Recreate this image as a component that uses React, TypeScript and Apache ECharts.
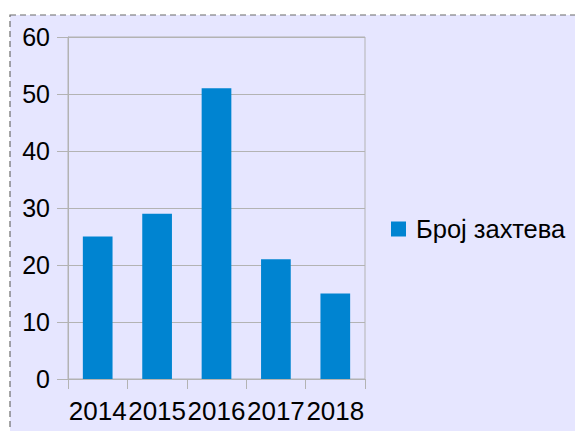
import React, { useEffect, useRef } from "react";
import * as echarts from "echarts";

const categories = ["2014", "2015", "2016", "2017", "2018"];
const values = [25, 29, 51, 21, 15];
const seriesName = "Број захтева";

export default function App() {
  const ref = useRef<HTMLDivElement>(null);
  useEffect(() => {
    const chart = echarts.init(ref.current!, null, { renderer: "svg" });
    const font = "'Liberation Sans', Arial, sans-serif";
    chart.setOption({
      animation: false,
      backgroundColor: "#ffffff",
      textStyle: { fontFamily: font },
      graphic: [
        {
          type: "rect",
          shape: { x: 10, y: 15, width: 575, height: 431 },
          style: { fill: "#e6e6ff", stroke: "#6b6b6b", lineWidth: 1.2, lineDash: [6, 4] },
          z: -10,
          silent: true,
        },
      ],
      grid: {
        left: 68,
        top: 37,
        width: 297,
        height: 342,
        show: true,
        borderColor: "#b3b3b3",
        borderWidth: 1,
        backgroundColor: "transparent",
      },
      legend: {
        left: 386,
        top: 211,
        icon: "rect",
        itemWidth: 15,
        itemHeight: 15,
        itemGap: 5,
        textStyle: { fontSize: 25.5, color: "#000", fontFamily: font, padding: [0, 0, 0, 5] },
        data: [seriesName],
      },
      xAxis: {
        type: "category",
        data: categories,
        axisLine: { lineStyle: { color: "#b3b3b3", width: 1 } },
        axisTick: { show: true, length: 10, lineStyle: { color: "#b3b3b3" } },
        axisLabel: { color: "#000", fontSize: 26, fontFamily: font, margin: 19, interval: 0 },
        splitLine: { show: false },
      },
      yAxis: {
        type: "value",
        min: 0,
        max: 60,
        interval: 10,
        axisLine: { show: true, lineStyle: { color: "#b3b3b3", width: 1 } },
        axisTick: { show: true, length: 11, lineStyle: { color: "#b3b3b3" } },
        axisLabel: { color: "#000", fontSize: 25, fontFamily: font, margin: 18 },
        splitLine: { show: true, lineStyle: { color: "#b3b3b3", width: 1 } },
      },
      series: [
        {
          name: seriesName,
          type: "bar",
          data: values,
          barWidth: "50%",
          itemStyle: { color: "#0084d1" },
        },
      ],
    });
    return () => chart.dispose();
  }, []);
  return (
    <div
      ref={ref}
      style={{ position: "fixed", left: 0, top: 0, width: 575, height: 431 }}
    />
  );
}
